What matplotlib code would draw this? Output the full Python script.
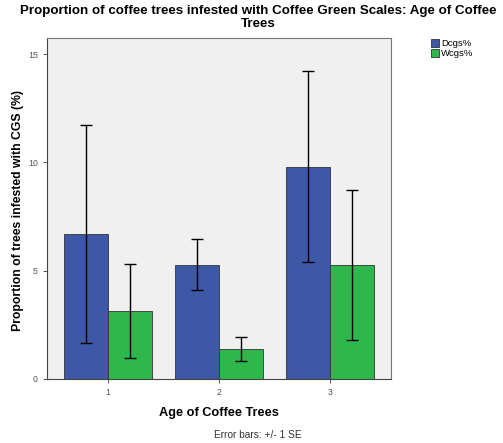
import numpy as np
from matplotlib import pyplot as plt

plt.rcParams['font.family'] = ['Liberation Sans', 'DejaVu Sans']

ages = [1, 2, 3]
dcgs = [6.70, 5.28, 9.80]
dcgs_se = [5.03, 1.18, 4.42]
wcgs = [3.15, 1.40, 5.27]
wcgs_se = [2.16, 0.55, 3.45]

blue = '#3e58a8'
green = '#2eb84b'

fig = plt.figure(figsize=(5.03, 4.43), dpi=100)
ax = fig.add_axes([0.093, 0.1445, 0.684, 0.770])
ax.set_facecolor('#f0f0f0')

x = np.array(ages, dtype=float)
w = 0.395
ax.bar(x - w / 2, dcgs, w, color=blue, edgecolor='#333333', linewidth=0.6, label='Dcgs%')
ax.bar(x + w / 2, wcgs, w, color=green, edgecolor='#333333', linewidth=0.6, label='Wcgs%')
ax.errorbar(x - w / 2, dcgs, yerr=dcgs_se, fmt='none', ecolor='black', elinewidth=1.0, capsize=4.3, capthick=1.0)
ax.errorbar(x + w / 2, wcgs, yerr=wcgs_se, fmt='none', ecolor='black', elinewidth=1.0, capsize=4.3, capthick=1.0)

ax.set_xlim(0.45, 3.55)
ax.set_ylim(0, 15.75)
ax.set_xticks(ages)
ax.set_xticklabels([str(a) for a in ages])
ax.set_yticks([0, 5, 10, 15])
ax.tick_params(axis='both', labelsize=6.3, colors='#555555', length=3, width=0.7)
for s in ax.spines.values():
    s.set_color('#777777')
    s.set_linewidth(0.8)
ax.spines['left'].set_color('#444444')
ax.spines['bottom'].set_color('#444444')

ax.set_xlabel('Age of Coffee Trees', fontsize=9.2, fontweight='bold')
ax.xaxis.set_label_coords(0.5, -0.082)
ax.set_ylabel('Proportion of trees infested with CGS (%)', fontsize=8.8, fontweight='bold')
ax.yaxis.set_label_coords(-0.066, 0.495)

fig.suptitle('Proportion of coffee trees infested with Coffee Green Scales: Age of Coffee\nTrees',
             x=0.513, y=0.988, fontsize=9.6, fontweight='bold', linespacing=1.1)
fig.text(0.513, 0.012, 'Error bars: +/- 1 SE', ha='center', fontsize=7.3, color='#333333')

leg = fig.legend(loc='upper left', bbox_to_anchor=(0.847, 0.922), fontsize=6.8, frameon=False,
                 handlelength=0.9, handleheight=0.9, handletextpad=0.2, labelspacing=0.05, borderpad=0)

fig.savefig('out.png', dpi=100)
